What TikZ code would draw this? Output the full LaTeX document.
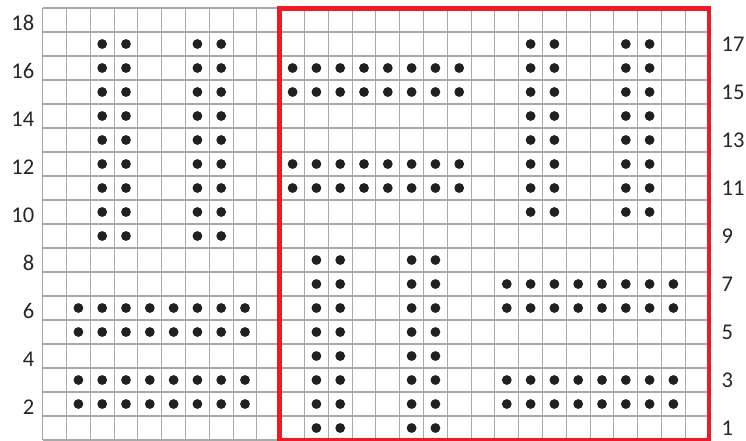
\documentclass[tikz,border=0pt]{standalone}
\usepackage{fontspec}
\setmainfont{Carlito}
\definecolor{gridgray}{HTML}{A8A8A8}
\definecolor{redframe}{HTML}{ED1C24}
\definecolor{dotblack}{HTML}{231F20}
\newcommand\knitdot[2]{\fill[dotblack] ({42.7+(#1-0.5)*23.8},{440-(#2-0.5)*24}) circle[radius=4.9];}
\tikzset{
  gridline/.style={draw=gridgray, line width=1.1pt},
  frame/.style={draw=redframe, line width=4.6pt},
  leftlab/.style={anchor=east, inner sep=0pt, font=\fontsize{22.5}{24}\selectfont, text=black!85},
  rightlab/.style={anchor=west, inner sep=0pt, font=\fontsize{22.5}{24}\selectfont, text=black!85}
}
\begin{document}
\begin{tikzpicture}[x=1pt,y=-1pt]
\useasboundingbox (0,0) rectangle (746,440);
\fill[white] (0,0) rectangle (746,440);
% grid
\foreach \i in {0,...,28} \draw[gridline] ({42.7+\i*23.8},8) -- ({42.7+\i*23.8},440);
\foreach \j in {0,...,18} \draw[gridline] (42.7,{440-\j*24}) -- (709.1,{440-\j*24});
% dots
\foreach \c in {3,4,7,8} \foreach \r in {9,...,17} {\knitdot{\c}{\r}}
\foreach \c in {2,...,9} \foreach \r in {2,3,5,6} {\knitdot{\c}{\r}}
\foreach \c in {11,...,18} \foreach \r in {11,12,15,16} {\knitdot{\c}{\r}}
\foreach \c in {21,22,25,26} \foreach \r in {10,...,17} {\knitdot{\c}{\r}}
\foreach \c in {12,13,16,17} \foreach \r in {1,...,8} {\knitdot{\c}{\r}}
\foreach \c in {20,...,27} \foreach \r in {2,3,6,7} {\knitdot{\c}{\r}}
% red frame
\draw[frame] (279.3,8.3) rectangle (709.1,440);
% labels
\foreach \r in {2,4,...,18} \node[leftlab] (L\r) at (34.5,{440-(\r-0.5)*24+3}) {\r};
\foreach \r in {1,3,...,17} \node[rightlab] (R\r) at (721.5,{440-(\r-0.5)*24}) {\r};
\end{tikzpicture}
\end{document}
